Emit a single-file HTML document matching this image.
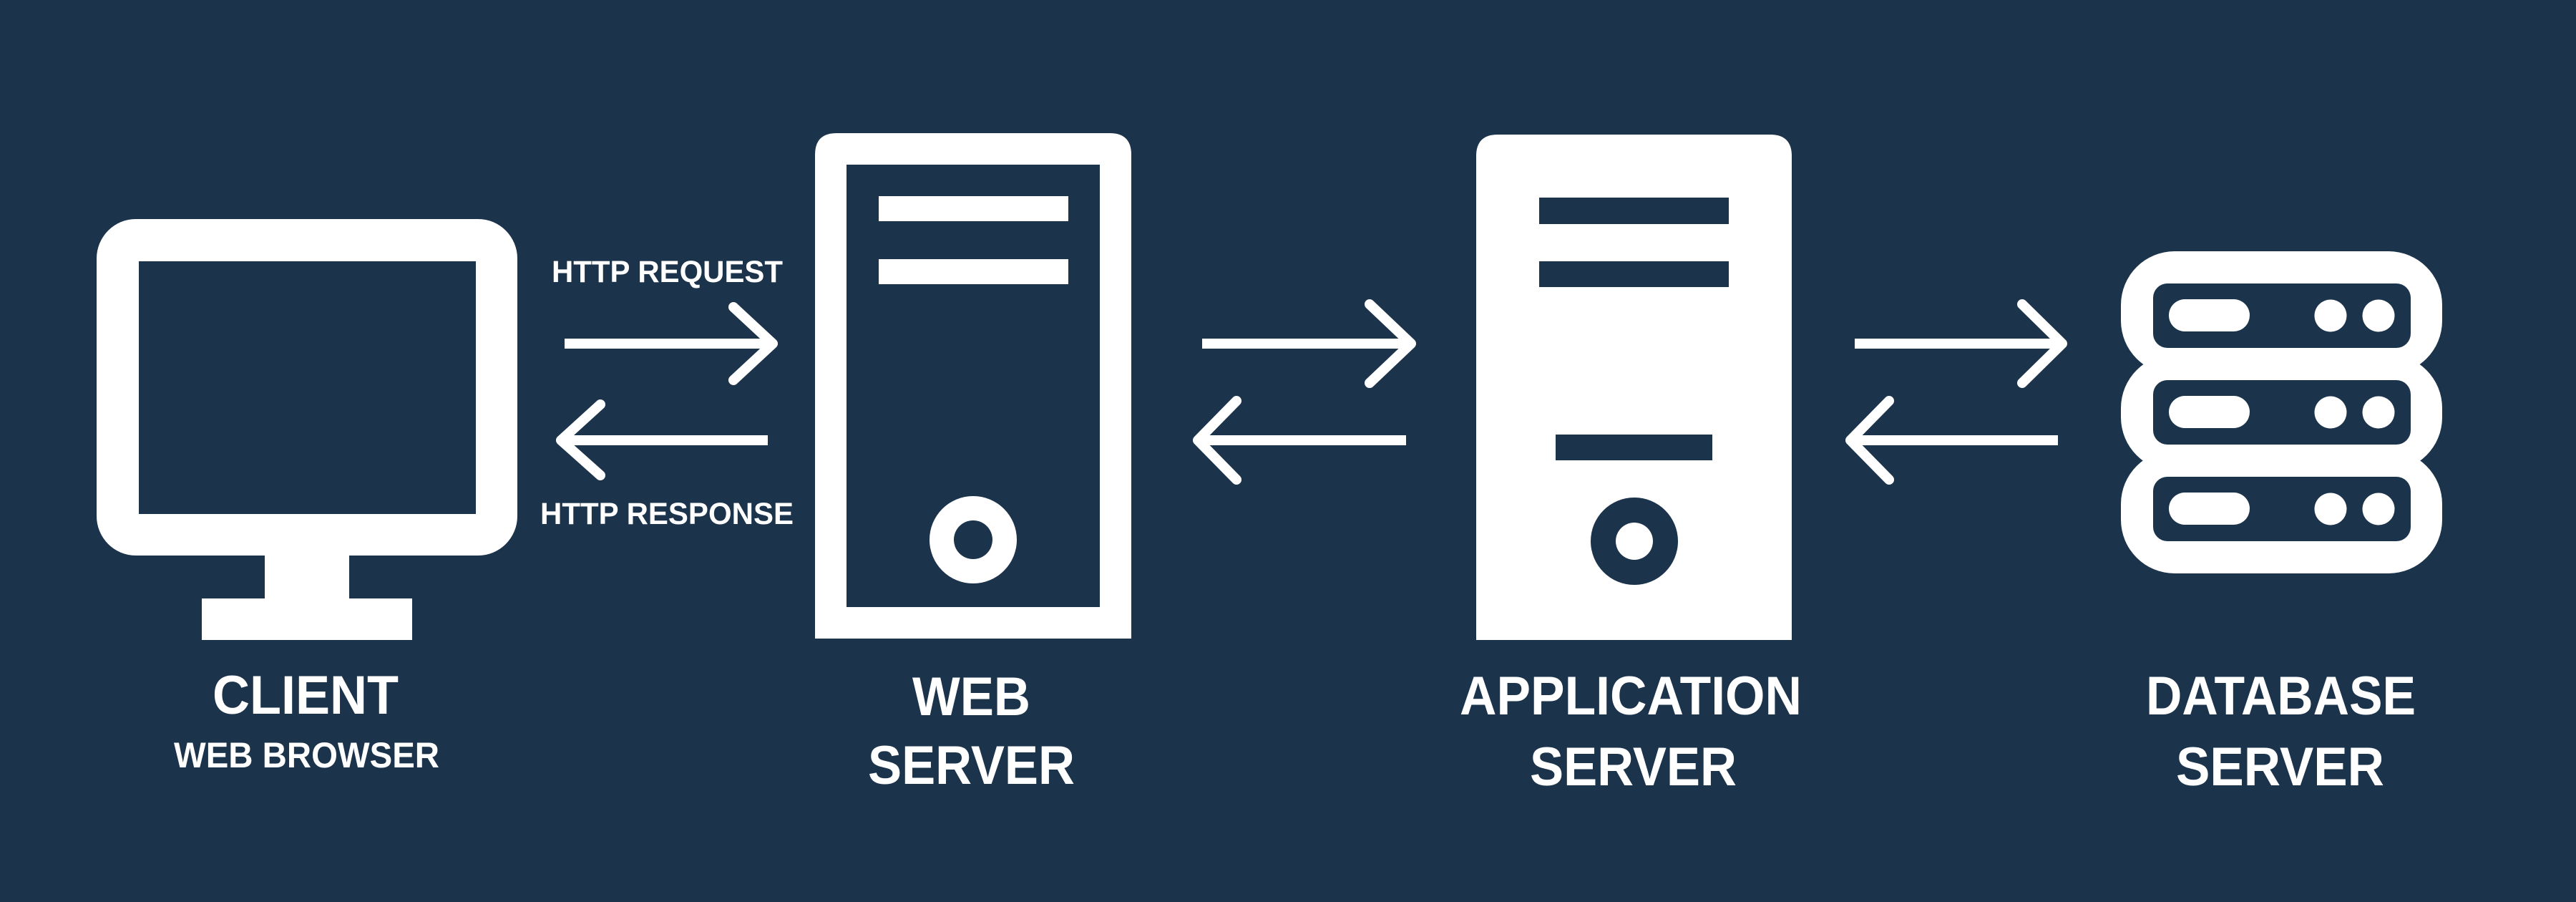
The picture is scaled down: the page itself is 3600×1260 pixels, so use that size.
<!DOCTYPE html>
<html><head><meta charset="utf-8"><style>
html,body{margin:0;padding:0;background:#1b334b;}
svg{display:block}
text{font-family:"Liberation Sans",sans-serif;fill:#fff;font-weight:bold}
</style></head><body>
<svg width="3600" height="1260" viewBox="0 0 3600 1260" xmlns="http://www.w3.org/2000/svg">
<rect width="3600" height="1260" fill="#1b334b"/>
<!-- Client monitor -->
<rect x="135" y="306" width="588" height="470" rx="55" fill="#fff"/>
<rect x="194" y="365" width="471" height="353" fill="#1b334b"/>
<rect x="370" y="770" width="118" height="70" fill="#fff"/>
<rect x="282" y="836" width="294" height="58" fill="#fff"/>
<text x="297" y="997" font-size="76" textLength="260" lengthAdjust="spacingAndGlyphs">CLIENT</text>
<text x="243" y="1072" font-size="50" textLength="371" lengthAdjust="spacingAndGlyphs">WEB BROWSER</text>

<!-- arrows -->
<g stroke="#fff" stroke-width="14" fill="none" stroke-linecap="round" stroke-linejoin="round">
<line x1="789" y1="480" x2="1078" y2="480" stroke-linecap="butt"/>
<polyline points="1025,429 1080,480 1025,531"/>
<line x1="1073" y1="615" x2="786" y2="615" stroke-linecap="butt"/>
<polyline points="839,565 784,615 839,664"/>

<line x1="1680" y1="480" x2="1970" y2="480" stroke-linecap="butt"/>
<polyline points="1914,425 1972,480 1914,535"/>
<line x1="1965" y1="615" x2="1676" y2="615" stroke-linecap="butt"/>
<polyline points="1728,560 1674,615 1728,670"/>

<line x1="2592" y1="480" x2="2880" y2="480" stroke-linecap="butt"/>
<polyline points="2826,425 2882,480 2826,535"/>
<line x1="2876" y1="615" x2="2588" y2="615" stroke-linecap="butt"/>
<polyline points="2640,560 2586,615 2640,670"/>
</g>
<text x="771" y="394" font-size="43" textLength="323" lengthAdjust="spacingAndGlyphs">HTTP REQUEST</text>
<text x="755" y="732" font-size="43" textLength="354" lengthAdjust="spacingAndGlyphs">HTTP RESPONSE</text>

<!-- Web server -->
<path d="M1139,892 V216 Q1139,186 1169,186 H1551 Q1581,186 1581,216 V892 Z" fill="#fff"/>
<rect x="1183" y="230" width="354" height="618" fill="#1b334b"/>
<rect x="1228" y="274" width="265" height="35" fill="#fff"/>
<rect x="1228" y="362" width="265" height="35" fill="#fff"/>
<circle cx="1360" cy="754" r="61" fill="#fff"/>
<circle cx="1360" cy="754" r="27" fill="#1b334b"/>
<text x="1275" y="999" font-size="76" textLength="165" lengthAdjust="spacingAndGlyphs">WEB</text>
<text x="1213" y="1095" font-size="76" textLength="289" lengthAdjust="spacingAndGlyphs">SERVER</text>

<!-- App server -->
<path d="M2063,894 V218 Q2063,188 2093,188 H2474 Q2504,188 2504,218 V894 Z" fill="#fff"/>
<rect x="2151" y="276" width="265" height="37" fill="#1b334b"/>
<rect x="2151" y="365" width="265" height="36" fill="#1b334b"/>
<rect x="2174" y="607" width="219" height="36" fill="#1b334b"/>
<circle cx="2284" cy="756" r="61" fill="#1b334b"/>
<circle cx="2284" cy="756" r="26" fill="#fff"/>
<text x="2040" y="998" font-size="76" textLength="478" lengthAdjust="spacingAndGlyphs">APPLICATION</text>
<text x="2138" y="1097" font-size="76" textLength="289" lengthAdjust="spacingAndGlyphs">SERVER</text>

<!-- DB server -->
<g fill="#fff">
<rect x="2964" y="351" width="449" height="172" rx="75"/>
<rect x="2964" y="495" width="449" height="163" rx="75"/>
<rect x="2964" y="629" width="449" height="172" rx="75"/>
</g>
<g fill="#1b334b">
<rect x="3009" y="396" width="360" height="90" rx="20"/>
<rect x="3009" y="531" width="360" height="90" rx="20"/>
<rect x="3009" y="666" width="360" height="90" rx="20"/>
</g>
<g fill="#fff">
<rect x="3031" y="418" width="113" height="45" rx="22.5"/>
<circle cx="3257" cy="441" r="22.5"/><circle cx="3324" cy="441" r="22.5"/>
<rect x="3031" y="553" width="113" height="45" rx="22.5"/>
<circle cx="3257" cy="576" r="22.5"/><circle cx="3324" cy="576" r="22.5"/>
<rect x="3031" y="688" width="113" height="45" rx="22.5"/>
<circle cx="3257" cy="711" r="22.5"/><circle cx="3324" cy="711" r="22.5"/>
</g>
<text x="2999" y="998" font-size="76" textLength="377" lengthAdjust="spacingAndGlyphs">DATABASE</text>
<text x="3041" y="1097" font-size="76" textLength="291" lengthAdjust="spacingAndGlyphs">SERVER</text>
</svg>
</body></html>
